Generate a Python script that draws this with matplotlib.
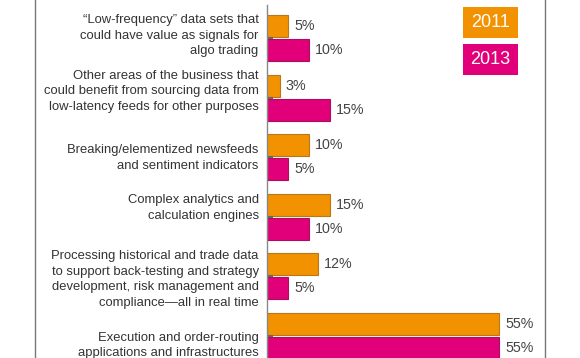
import matplotlib.pyplot as plt
from matplotlib.patches import Rectangle
import numpy as np

# data
categories = [
    '\u201cLow-frequency\u201d data sets that\ncould have value as signals for\nalgo trading',
    'Other areas of the business that\ncould benefit from sourcing data from\nlow-latency feeds for other purposes',
    'Breaking/elementized newsfeeds\nand sentiment indicators',
    'Complex analytics and\ncalculation engines',
    'Processing historical and trade data\nto support back-testing and strategy\ndevelopment, risk management and\ncompliance\u2014all in real time',
    'Execution and order-routing\napplications and infrastructures',
]
vals_2011 = [5, 3, 10, 15, 12, 55]
vals_2013 = [10, 15, 5, 10, 5, 55]
years = ['2011', '2013']

# the original layout nudges the labels a bit (pixels, + = down)
label_nudge = [-2.5, -6.5, 1, -9, 3, 9.5]

orange = '#F39200'
magenta = '#E2007A'
text_grey = '#333333'

plt.rcParams['font.family'] = ['Liberation Sans', 'DejaVu Sans']

fig = plt.figure(figsize=(5.8, 3.58), dpi=100)
ax = fig.add_axes([267 / 580, 0, (545 - 267) / 580, 1])

y = np.arange(len(categories))
h = 0.37
off = 0.2

ax.barh(y - off, vals_2011, height=h, color=orange, edgecolor='#b9761a', linewidth=0.8)
ax.barh(y + off, vals_2013, height=h, color=magenta, edgecolor='#a8105e', linewidth=0.8)

for yi, v in zip(y - off, vals_2011):
    ax.text(v + 1.4, yi, f'{v}%', va='center', ha='left', fontsize=10.3, color='#444444')
for yi, v in zip(y + off, vals_2013):
    ax.text(v + 1.4, yi, f'{v}%', va='center', ha='left', fontsize=10.3, color='#444444')

ax.set_xlim(0, (545 - 267) / 4.22)
ax.set_ylim(5.37, -0.64)

ax.set_yticks(y)
ax.set_yticklabels([])
ax.tick_params(axis='y', direction='in', length=4, width=1.5, color='#666666')
ax.set_xticks([])

for yi, lab, nd in zip(y, categories, label_nudge):
    ax.annotate(lab, xy=(0, yi), xycoords=('axes fraction', 'data'),
                xytext=(-6, -nd * 0.72), textcoords='offset points',
                ha='right', va='center', fontsize=9.4, color=text_grey,
                linespacing=1.4)

for s in ['top', 'right', 'bottom']:
    ax.spines[s].set_visible(False)
ax.spines['left'].set_color('#888888')
ax.spines['left'].set_linewidth(1.0)
ax.spines['left'].set_bounds(-0.56, 5.37)
ax.patch.set_alpha(0)

# legend boxes
for i, (yr, c) in enumerate(zip(years, [orange, magenta])):
    top = 7 + i * 36.5
    fig.add_artist(Rectangle((463 / 580, 1 - (top + 31) / 358), 55 / 580, 31 / 358,
                             transform=fig.transFigure, facecolor=c, edgecolor='none'))
    fig.text(490.5 / 580, 1 - (top + 15.5) / 358, yr, ha='center', va='center',
             fontsize=13, color='white')

# outer frame lines
fig.add_artist(plt.Line2D([35 / 580, 35 / 580], [0, 1], color='#777777', lw=1.0))
fig.add_artist(plt.Line2D([545 / 580, 545 / 580], [0, 1], color='#777777', lw=1.0))

fig.savefig('out.png', dpi=100)
